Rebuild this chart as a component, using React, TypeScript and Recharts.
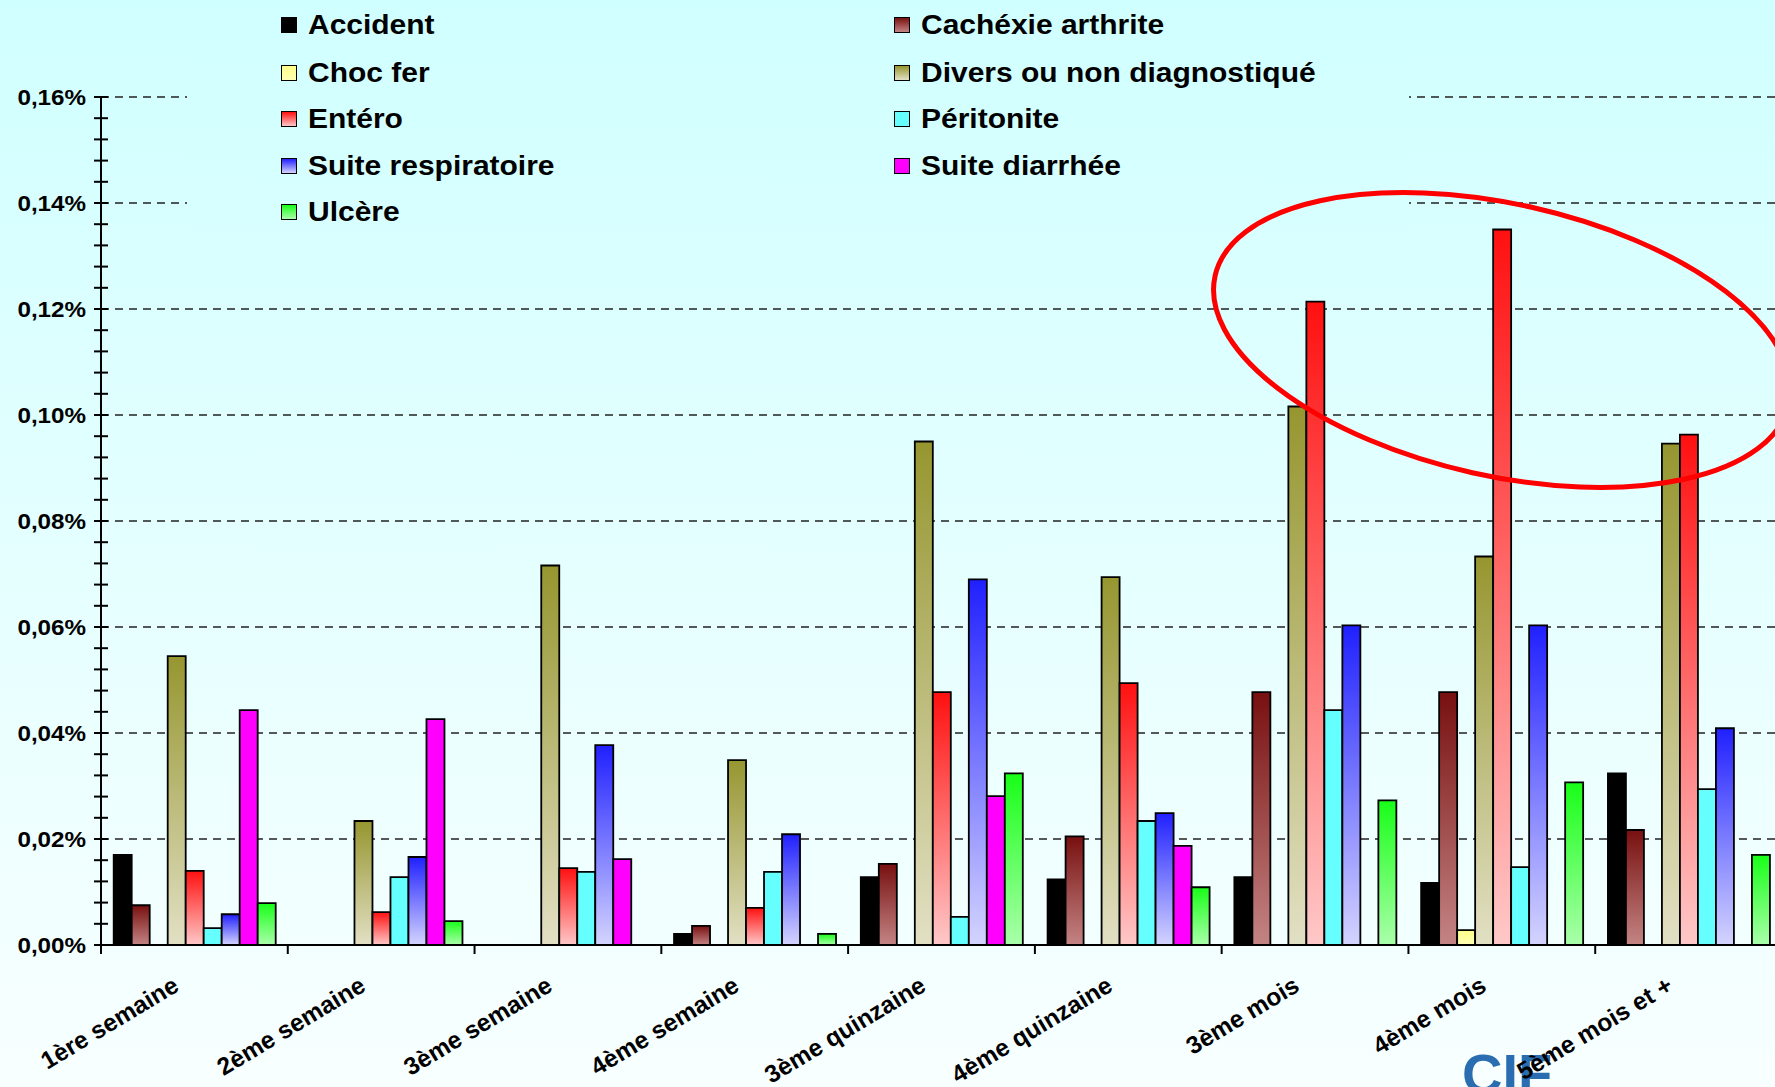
import React from 'react';
import { BarChart, Bar, XAxis, YAxis, CartesianGrid } from 'recharts';

// categories (age at death) and % mortality per cause
const categories = [
  '1ère semaine',
  '2ème semaine',
  '3ème semaine',
  '4ème semaine',
  '3ème quinzaine',
  '4ème quinzaine',
  '3ème mois',
  '4ème mois',
  '5ème mois et +',
];

const accident = [0.017, 0, 0, 0.0021, 0.0128, 0.0124, 0.0128, 0.0117, 0.0324];
const cachexie = [0.0075, 0, 0, 0.0036, 0.0153, 0.0205, 0.0477, 0.0477, 0.0217];
const chocFer = [0, 0, 0, 0, 0, 0, 0, 0.0028, 0];
const divers = [0.0545, 0.0234, 0.0716, 0.0349, 0.095, 0.0694, 0.1016, 0.0733, 0.0946];
const entero = [0.014, 0.0062, 0.0145, 0.007, 0.0477, 0.0494, 0.1214, 0.135, 0.0963];
const peritonite = [0.0032, 0.0128, 0.0138, 0.0138, 0.0053, 0.0234, 0.0443, 0.0147, 0.0294];
const respiratoire = [0.0058, 0.0166, 0.0377, 0.0209, 0.069, 0.0249, 0.0603, 0.0603, 0.0409];
const diarrhee = [0.0443, 0.0426, 0.0162, 0, 0.0281, 0.0187, 0, 0, 0];
const ulcere = [0.0079, 0.0045, 0, 0.0021, 0.0324, 0.0109, 0.0273, 0.0307, 0.017];

const majorTicks = [0, 0.02, 0.04, 0.06, 0.08, 0.1, 0.12, 0.14, 0.16];

const series = [
  { key: 'accident', name: 'Accident', values: accident, top: '#000000', bottom: '#000000' },
  { key: 'cachexie', name: 'Cachéxie arthrite', values: cachexie, top: '#781010', bottom: '#c48484' },
  { key: 'chocFer', name: 'Choc fer', values: chocFer, top: '#ffff88', bottom: '#ffffb4' },
  { key: 'divers', name: 'Divers ou non diagnostiqué', values: divers, top: '#969630', bottom: '#e2e0c4' },
  { key: 'entero', name: 'Entéro', values: entero, top: '#ff1010', bottom: '#ffc8c8' },
  { key: 'peritonite', name: 'Péritonite', values: peritonite, top: '#66ffff', bottom: '#66ffff' },
  { key: 'respiratoire', name: 'Suite respiratoire', values: respiratoire, top: '#2020ff', bottom: '#d4d4ff' },
  { key: 'diarrhee', name: 'Suite diarrhée', values: diarrhee, top: '#ff00ff', bottom: '#ff00ff' },
  { key: 'ulcere', name: 'Ulcère', values: ulcere, top: '#18ff18', bottom: '#aaffaa' },
];

const data = categories.map((name, i) => {
  const row: Record<string, string | number> = { name };
  series.forEach((s) => {
    row[s.key] = s.values[i];
  });
  return row;
});

// 4 minor ticks between each labelled tick
const allTicks: number[] = [];
majorTicks.forEach((t, i) => {
  if (i === 0) {
    allTicks.push(t);
    return;
  }
  const prev = majorTicks[i - 1];
  for (let k = 1; k <= 5; k++) allTicks.push(+(prev + ((t - prev) * k) / 5).toFixed(4));
});

const FONT = '"Liberation Sans", Arial, sans-serif';
const CHART_W = 1800;
const CHART_H = 1087;
const MARGIN = { top: 97, right: 18, left: 1, bottom: 0 };
const Y_W = 100;
const BAND = (CHART_W - MARGIN.left - MARGIN.right - Y_W) / categories.length;

const isMajor = (v: number) => Math.abs(v * 50 - Math.round(v * 50)) < 1e-6;
const fmt = (v: number) => v.toFixed(2).replace('.', ',') + '%';

const YTick = (props: any) => {
  const { x, y, payload } = props;
  const v = payload.value as number;
  const major = isMajor(v);
  return (
    <g>
      <line x1={x - 7} x2={x + 7} y1={y} y2={y} stroke="#000" strokeWidth={2} />
      {major && (
        <text
          transform={`translate(${x - 15} ${y}) scale(1.1 1)`}
          textAnchor="end"
          dominantBaseline="central"
          fontFamily={FONT}
          fontWeight="bold"
          fontSize={22}
          fill="#000"
        >
          {fmt(v)}
        </text>
      )}
    </g>
  );
};

const XTick = (props: any) => {
  const { x, y, payload } = props;
  const bx = x - BAND / 2;
  const tx = x - 14;
  const ty = y + 45;
  return (
    <g>
      <line x1={bx} x2={bx} y1={y} y2={y + 9} stroke="#000" strokeWidth={2} />
      <text
        x={tx}
        y={ty}
        transform={`rotate(-31 ${tx} ${ty})`}
        textAnchor="end"
        fontFamily={FONT}
        fontWeight="bold"
        fontSize={24.5}
        fill="#000"
      >
        {payload.value}
      </text>
    </g>
  );
};

const legendRows = [25, 73, 119, 166, 212];

export default function App() {
  return (
    <div
      style={{
        position: 'absolute',
        left: 0,
        top: 0,
        width: 1775,
        height: 1087,
        overflow: 'hidden',
        background: 'linear-gradient(#d0ffff, #f8ffff)',
        fontFamily: FONT,
      }}
    >
      {/* logo sits under the axis labels */}
      <div
        style={{
          position: 'absolute',
          left: 1462,
          top: 1046,
          fontSize: 56,
          fontWeight: 'bold',
          color: '#2a6db0',
          lineHeight: '56px',
        }}
      >
        CIF
      </div>

      <BarChart
        width={CHART_W}
        height={CHART_H}
        data={data}
        margin={MARGIN}
        barGap={0}
        barCategoryGap="6.8%"
      >
        <defs>
          {series.map((s) => (
            <linearGradient key={s.key} id={`grad-${s.key}`} x1="0" y1="0" x2="0" y2="1">
              <stop offset="0%" stopColor={s.top} />
              <stop offset="100%" stopColor={s.bottom} />
            </linearGradient>
          ))}
        </defs>
        <CartesianGrid
          vertical={false}
          horizontalValues={majorTicks.slice(1)}
          stroke="#222"
          strokeWidth={1.4}
          strokeDasharray="8 6"
        />
        <XAxis
          dataKey="name"
          height={CHART_H - MARGIN.top - 848}
          axisLine={{ stroke: '#000', strokeWidth: 2 }}
          tickLine={false}
          tickSize={0}
          tickMargin={0}
          interval={0}
          tick={<XTick />}
        />
        <YAxis
          width={Y_W}
          domain={[0, 0.16]}
          ticks={allTicks}
          interval={0}
          axisLine={{ stroke: '#000', strokeWidth: 2 }}
          tickLine={false}
          tickSize={0}
          tickMargin={0}
          tick={<YTick />}
        />
        {series.map((s) => (
          <Bar
            key={s.key}
            dataKey={s.key}
            name={s.name}
            fill={`url(#grad-${s.key})`}
            stroke="#000"
            strokeWidth={1.8}
            isAnimationActive={false}
          />
        ))}
      </BarChart>

      <div
        style={{
          position: 'absolute',
          left: 187,
          top: 0,
          width: 1222,
          height: 226,
          background: 'linear-gradient(#d0ffff, #d8ffff)',
        }}
      >
        {series.map((s, i) => {
          const col = i % 2;
          const row = Math.floor(i / 2);
          const left = col === 0 ? 94 : 707;
          const cy = legendRows[row];
          return (
            <div key={s.key} style={{ position: 'absolute', left, top: cy - 16, height: 32, display: 'flex', alignItems: 'center' }}>
              <div
                style={{
                  width: 14,
                  height: 14,
                  border: '1.5px solid #000',
                  background: `linear-gradient(${s.top}, ${s.bottom})`,
                  marginRight: 11,
                }}
              />
              <span
                style={{
                  display: 'inline-block',
                  fontSize: 27,
                  fontWeight: 'bold',
                  color: '#000',
                  transform: 'scaleX(1.11)',
                  transformOrigin: 'left center',
                  whiteSpace: 'nowrap',
                }}
              >
                {s.name}
              </span>
            </div>
          );
        })}
      </div>

      <svg width={1775} height={1087} style={{ position: 'absolute', left: 0, top: 0, pointerEvents: 'none' }}>
        <ellipse
          cx={1502}
          cy={340}
          rx={294}
          ry={136}
          transform="rotate(12.6 1502 340)"
          fill="none"
          stroke="#ff0000"
          strokeWidth={5}
        />
      </svg>
    </div>
  );
}
